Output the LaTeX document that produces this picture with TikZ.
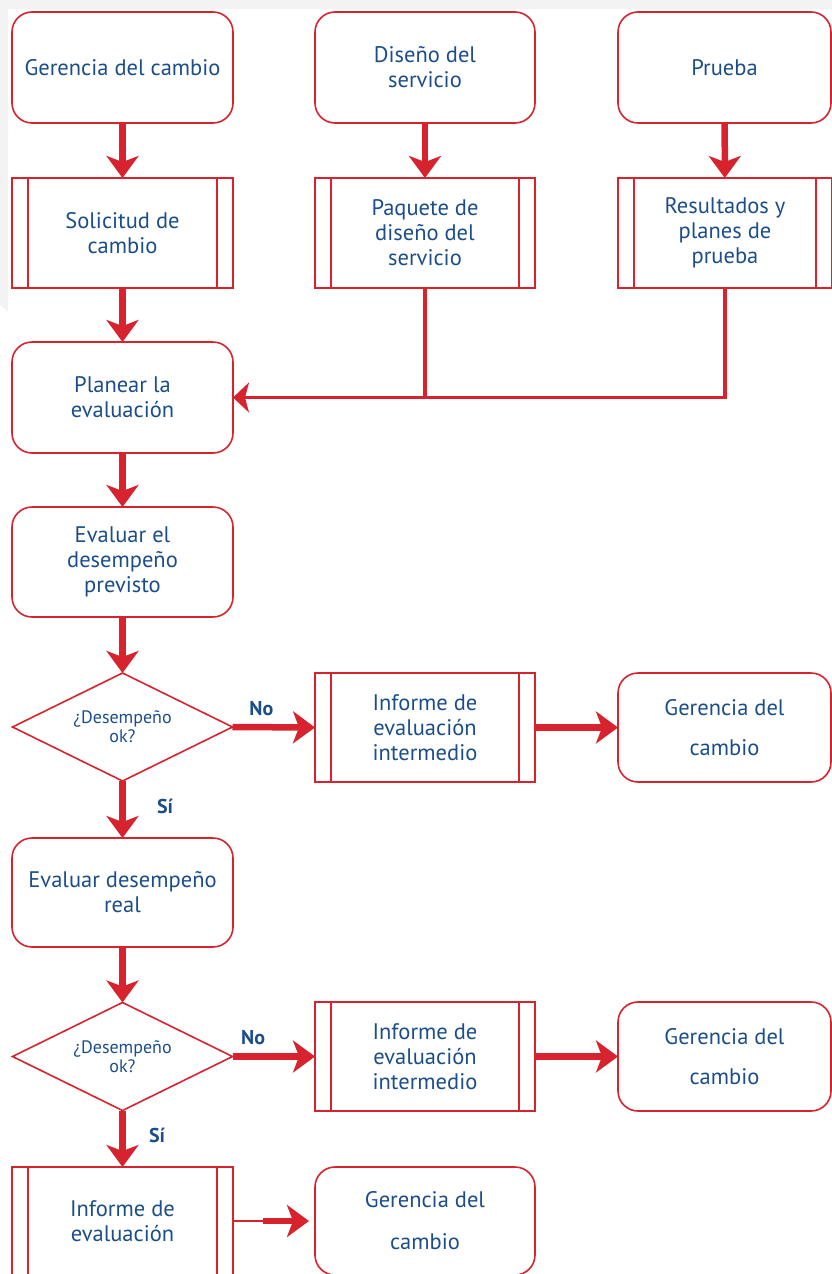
\documentclass[tikz,border=0pt]{standalone}
\usepackage{fontspec}
\setmainfont{PT Sans}
\usetikzlibrary{shapes.geometric,arrows.meta}
\definecolor{flowred}{HTML}{D7232E}
\definecolor{flowblue}{HTML}{1B4E89}
\definecolor{edgegray}{HTML}{F3F3F3}
\tikzset{
  box/.style={draw=flowred, line width=1.6pt, text=flowblue, align=center,
    font=\fontsize{22.5}{25}\selectfont, inner sep=0pt, outer sep=0pt},
  terminal/.style={box, rounded corners=20pt},
  subproc/.style={box, path picture={
      \draw[flowred, line width=1.6pt]
        ([xshift=16pt]path picture bounding box.north west) --
        ([xshift=16pt]path picture bounding box.south west)
        ([xshift=-16pt]path picture bounding box.north east) --
        ([xshift=-16pt]path picture bounding box.south east);}},
  decision/.style={box, diamond, aspect=2.04, minimum width=220pt,
    minimum height=108pt, font=\fontsize{18}{19}\selectfont},
  flow/.style={draw=flowred, line width=6.5pt,
    -{Stealth[length=22pt, width=32pt, inset=6pt]}},
  feed/.style={draw=flowred, line width=3.5pt},
  feedtip/.style={feed, -{Stealth[length=16pt, width=30pt, inset=4pt]}},
  thin/.style={draw=flowred, line width=1.6pt},
  answer/.style={text=flowblue, font=\fontsize{20}{22}\selectfont\bfseries}
}
\begin{document}
\begin{tikzpicture}[x=1pt, y=-1pt]
\useasboundingbox (0,0) rectangle (832,1274);
\clip (0,0) rectangle (832,1274);
% light margin along the top and upper left edge
\fill[edgegray] (0,0) rectangle (832,9);
\fill[edgegray] (0,0) -- (8,0) -- (8,312) -- (0,305) -- cycle;

% top row
\node[terminal, minimum width=221pt, minimum height=111pt] (gc0) at (122.5,67.5) {Gerencia del cambio};
\node[terminal, minimum width=220pt, minimum height=111pt] (ds) at (425,67.5) {Diseño del\\servicio};
\node[terminal, minimum width=213pt, minimum height=111pt] (pr) at (724.5,67.5) {Prueba};

% inputs
\node[subproc, minimum width=221pt, minimum height=110pt] (sc) at (122.5,233) {Solicitud de\\cambio};
\node[subproc, minimum width=220pt, minimum height=110pt] (pd) at (425,233) {Paquete de\\diseño del\\servicio};
\node[subproc, minimum width=214pt, minimum height=110pt] (rp) at (725,233) {Resultados y\\planes de\\prueba};

% main column
\node[terminal, minimum width=221pt, minimum height=111pt] (pl) at (122.5,397.5) {Planear la\\evaluación};
\node[terminal, minimum width=221pt, minimum height=110pt] (ep) at (122.5,562) {Evaluar el\\desempeño\\previsto};
\node[decision] (d1) at (122.5,727) {¿Desempeño\\ok?};
\node[subproc, minimum width=220pt, minimum height=109pt] (ii1) at (425,727.5) {Informe de\\evaluación\\intermedio};
\node[terminal, minimum width=213pt, minimum height=109pt, font=\fontsize{22.5}{40}\selectfont] (gc1) at (724.5,727.5) {Gerencia del\\cambio};
\node[terminal, minimum width=221pt, minimum height=109pt] (er) at (122.5,892.5) {Evaluar desempeño\\real};
\node[decision] (d2) at (122.5,1056.5) {¿Desempeño\\ok?};
\node[subproc, minimum width=220pt, minimum height=109pt] (ii2) at (425,1056.5) {Informe de\\evaluación\\intermedio};
\node[terminal, minimum width=213pt, minimum height=109pt, font=\fontsize{22.5}{40}\selectfont] (gc2) at (724.5,1056.5) {Gerencia del\\cambio};
\node[subproc, minimum width=221pt, minimum height=108pt] (ie) at (122.5,1221) {Informe de\\evaluación};
\node[terminal, minimum width=220pt, minimum height=108pt, font=\fontsize{22.5}{42}\selectfont] (gc3) at (425,1221) {Gerencia del\\cambio};

% vertical flow
\draw[flow] (gc0) -- (sc);
\draw[flow] (ds) -- (pd);
\draw[flow] (pr) -- (rp);
\draw[flow] (sc) -- (pl);
\draw[flow] (pl) -- (ep);
\draw[flow] (ep) -- (d1);
\draw[flow] (d1) -- node[answer, right=28pt, pos=0.45] {Sí} (er);
\draw[flow] (er) -- (d2);
\draw[flow] (d2) -- node[answer, right=20pt, pos=0.45] {Sí} (ie);

% inputs gathered into the planning step
\coordinate (join) at (pd.south |- pl.east);
\draw[feed] (pd.south) -- (join);
\draw[feed] (rp.south) |- (join);
\draw[feedtip] (join) -- (pl.east);

% decisions
\draw[flow] (d1.east) -- node[answer, above=5pt, pos=0.35] {No} (ii1.west);
\draw[flow] (ii1) -- (gc1);
\draw[flow] (d2.east) -- node[answer, above=5pt, pos=0.25] {No} (ii2.west);
\draw[flow] (ii2) -- (gc2);

% final report
\coordinate (bend) at ([xshift=30pt]ie.east);
\draw[thin] (ie.east) -- (bend);
\draw[flow, shorten >=6pt] (bend) -- (gc3.west);
\end{tikzpicture}
\end{document}
